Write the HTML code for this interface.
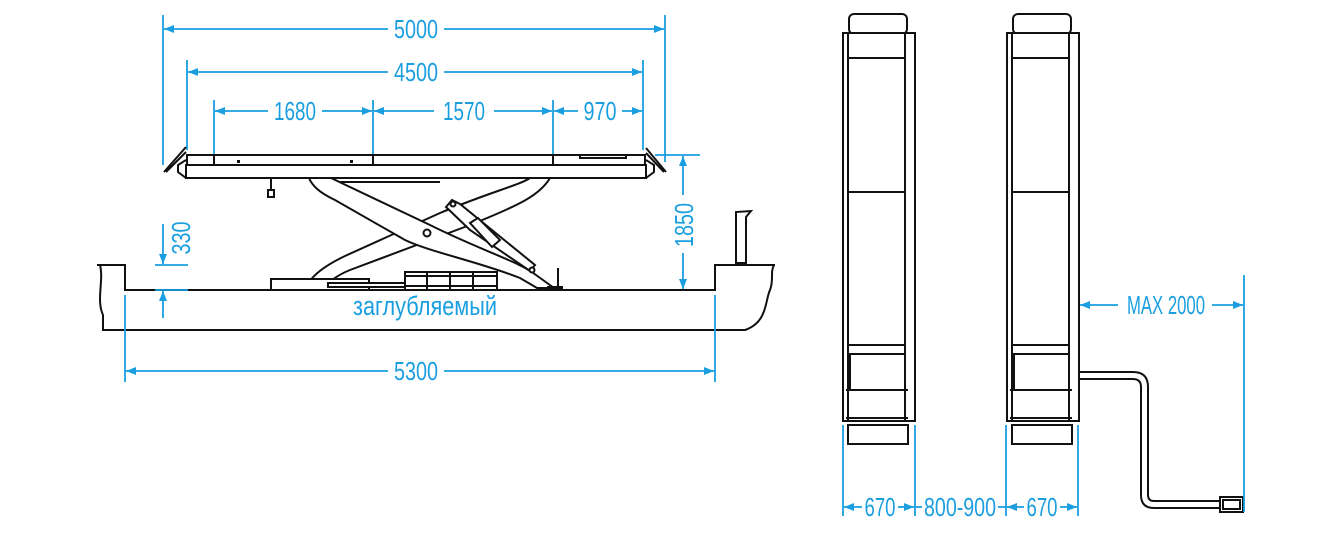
<!DOCTYPE html>
<html><head><meta charset="utf-8"><style>
html,body{margin:0;padding:0;background:#fff;width:1326px;height:552px;overflow:hidden}
svg{display:block}
.b{stroke:#1a9ee0;stroke-width:1.8;fill:none}
.t{fill:#1a9ee0;font-family:"Liberation Sans Narrow","Liberation Sans",sans-serif;font-size:26px;text-anchor:middle}
.k{stroke:#111;stroke-width:2;fill:none}
.kw{stroke:#111;stroke-width:2;fill:#fff}
.a{fill:#1a9ee0}
</style></head><body>
<svg width="1326" height="552" viewBox="0 0 1326 552" xmlns="http://www.w3.org/2000/svg">
<defs>
<marker id="ar" viewBox="0 0 10 10" refX="10" refY="5" markerWidth="10" markerHeight="10" orient="auto-start-reverse" markerUnits="userSpaceOnUse"><path d="M0,1 L10,5 L0,9 z" class="a"/></marker>
</defs>

<!-- top dimensions -->
<line class="b" x1="163" y1="15" x2="163" y2="165"/>
<line class="b" x1="665" y1="15" x2="665" y2="162"/>
<line class="b" x1="187" y1="60" x2="187" y2="150"/>
<line class="b" x1="643" y1="60" x2="643" y2="150"/>
<line class="b" x1="214" y1="100" x2="214" y2="155"/>
<line class="b" x1="373" y1="100" x2="373" y2="155"/>
<line class="b" x1="553" y1="100" x2="553" y2="155"/>
<line class="b" x1="164" y1="29" x2="388" y2="29" marker-start="url(#ar)"/>
<line class="b" x1="444" y1="29" x2="664" y2="29" marker-end="url(#ar)"/>
<text class="t" x="416" y="38" textLength="44" lengthAdjust="spacingAndGlyphs">5000</text>
<line class="b" x1="188" y1="72" x2="388" y2="72" marker-start="url(#ar)"/>
<line class="b" x1="444" y1="72" x2="642" y2="72" marker-end="url(#ar)"/>
<text class="t" x="416" y="81" textLength="44" lengthAdjust="spacingAndGlyphs">4500</text>
<line class="b" x1="215" y1="111" x2="268" y2="111" marker-start="url(#ar)"/>
<line class="b" x1="322" y1="111" x2="372" y2="111" marker-end="url(#ar)"/>
<text class="t" x="295" y="120" textLength="42" lengthAdjust="spacingAndGlyphs">1680</text>
<line class="b" x1="374" y1="111" x2="434" y2="111" marker-start="url(#ar)"/>
<line class="b" x1="494" y1="111" x2="552" y2="111" marker-end="url(#ar)"/>
<text class="t" x="464" y="120" textLength="42" lengthAdjust="spacingAndGlyphs">1570</text>
<line class="b" x1="554" y1="111" x2="578" y2="111" marker-start="url(#ar)"/>
<line class="b" x1="622" y1="111" x2="642" y2="111" marker-end="url(#ar)"/>
<text class="t" x="600" y="120" textLength="33" lengthAdjust="spacingAndGlyphs">970</text>

<!-- platform -->
<rect class="kw" x="187" y="155" width="458" height="10"/>
<rect class="kw" x="186" y="165" width="460" height="13"/>
<line class="k" x1="214" y1="155" x2="214" y2="165"/>
<line class="k" x1="373" y1="155" x2="373" y2="165"/>
<line class="k" x1="553" y1="155" x2="553" y2="165"/>
<path class="k" d="M580,155 L580,158 L626,158 L626,155"/>
<path class="k" d="M164,172 L186,147 M166,172 L186,152 M186,160 L178,165 L178,172 L186,178"/>
<path class="k" d="M666,172 L646,148 M664,172 L646,153 M646,160 L654,165 L654,172 L646,178"/>
<rect x="237" y="160" width="3" height="3" fill="#111"/><rect x="350" y="160" width="3" height="3" fill="#111"/>
<line class="k" x1="330" y1="182" x2="440" y2="182"/>
<line class="k" x1="271" y1="178" x2="271" y2="193"/>
<rect class="kw" x="268" y="190" width="6" height="7"/>

<!-- scissors -->
<path class="kw" d="M530,178 L550,178 C540,195 520,205 470,225 L350,270 C335,276 325,285 322,290 L304,290 C310,278 320,268 345,256 L440,213 C490,192 520,185 530,178 Z"/>
<path class="kw" d="M309,178 L331,178 L430,225 C480,250 520,262 536,275 L554,288 L537,288 L520,278 C480,262 430,252 405,240 L335,200 C318,192 312,185 309,178 Z"/>
<circle class="kw" cx="427" cy="233" r="3.5"/>
<path class="kw" d="M446,207 L452,200 L460,204 L535,265 L530,271 L470,230 Z"/>
<circle class="kw" cx="453" cy="204" r="2.5"/>
<path class="kw" d="M470,223 L478,218 L500,240 L492,247 Z"/>
<circle class="kw" cx="532" cy="270" r="2.5"/>
<!-- base parts -->
<rect class="kw" x="271" y="279" width="98" height="11"/>
<rect class="kw" x="328" y="283" width="80" height="4"/>
<rect class="kw" x="405" y="272" width="92" height="18"/>
<line class="k" x1="405" y1="276" x2="497" y2="276"/><line class="k" x1="405" y1="286" x2="497" y2="286"/>
<line class="k" x1="427" y1="272" x2="427" y2="290"/><line class="k" x1="450" y1="272" x2="450" y2="290"/><line class="k" x1="473" y1="272" x2="473" y2="290"/>
<line class="k" x1="558" y1="268" x2="558" y2="288"/><rect x="547" y="286" width="16" height="4" fill="#111"/>
<path class="kw" d="M736,212 L736,263 L746,263 L746,217 L751,211 Z"/>

<!-- pit -->
<path class="k" d="M97,265 L125,265 L125,290 L715,290 L715,265 L775,265"/>
<path class="k" d="M100,265 C104,280 96,300 103,315 L103,330 L745,330 C768,322 765,300 770,290 C774,280 770,272 774,265"/>
<text class="t" x="425" y="315" style="font-size:27px" textLength="144" lengthAdjust="spacingAndGlyphs">заглубляемый</text>

<!-- 5300 -->
<line class="b" x1="125" y1="295" x2="125" y2="382"/>
<line class="b" x1="715" y1="295" x2="715" y2="382"/>
<line class="b" x1="126" y1="371" x2="388" y2="371" marker-start="url(#ar)"/>
<line class="b" x1="444" y1="371" x2="714" y2="371" marker-end="url(#ar)"/>
<text class="t" x="416" y="380" textLength="44" lengthAdjust="spacingAndGlyphs">5300</text>
<!-- 330 -->
<line class="b" x1="163" y1="224" x2="163" y2="264" marker-end="url(#ar)"/>
<line class="b" x1="163" y1="318" x2="163" y2="291" marker-end="url(#ar)"/>
<line class="b" x1="155" y1="265" x2="188" y2="265"/>
<line class="b" x1="155" y1="290" x2="188" y2="290"/>
<text class="t" transform="translate(190,238) rotate(-90)" textLength="33" lengthAdjust="spacingAndGlyphs">330</text>
<!-- 1850 -->
<line class="b" x1="655" y1="155" x2="700" y2="155"/>
<line class="b" x1="683" y1="195" x2="683" y2="156" marker-end="url(#ar)"/>
<line class="b" x1="683" y1="253" x2="683" y2="289" marker-end="url(#ar)"/>
<text class="t" transform="translate(693,225) rotate(-90)" textLength="44" lengthAdjust="spacingAndGlyphs">1850</text>

<!-- top view lifts -->
<g id="lift">
<rect class="kw" x="849" y="14" width="58" height="20" rx="5"/>
<rect class="kw" x="843" y="33" width="72" height="388"/>
<rect class="k" x="848" y="33" width="57" height="388"/>
<line class="k" x1="848" y1="58" x2="905" y2="58"/>
<line class="k" x1="848" y1="192" x2="905" y2="192"/>
<line class="k" x1="848" y1="345" x2="905" y2="345"/>
<line class="k" x1="848" y1="354" x2="905" y2="354"/>
<line class="k" x1="850" y1="354" x2="850" y2="390"/><line class="k" x1="905" y1="354" x2="905" y2="390"/>
<line class="k" x1="846" y1="390" x2="908" y2="390"/>
<line class="k" x1="846" y1="418" x2="908" y2="418"/>
<rect class="kw" x="848" y="425" width="60" height="19"/>
</g>
<use href="#lift" x="164"/>
<!-- cable -->
<path class="k" d="M1078,372 L1133,372 Q1148,372 1148,387 L1148,495 Q1148,501 1154,501 L1222,501"/>
<path class="k" d="M1078,379 L1133,379 Q1141,379 1141,387 L1141,495 Q1141,508 1154,508 L1222,508"/>
<rect class="kw" x="1220" y="497" width="23" height="15"/>
<rect class="k" x="1223" y="500" width="17" height="9"/>
<!-- MAX 2000 -->
<line class="b" x1="1244" y1="275" x2="1244" y2="512"/>
<line class="b" x1="1080" y1="305" x2="1118" y2="305" marker-start="url(#ar)"/>
<line class="b" x1="1212" y1="305" x2="1243" y2="305" marker-end="url(#ar)"/>
<text class="t" x="1166" y="314" textLength="78" lengthAdjust="spacingAndGlyphs">MAX 2000</text>
<!-- bottom dims -->
<line class="b" x1="843" y1="425" x2="843" y2="516"/>
<line class="b" x1="915" y1="425" x2="915" y2="516"/>
<line class="b" x1="1006" y1="425" x2="1006" y2="516"/>
<line class="b" x1="1078" y1="425" x2="1078" y2="516"/>
<line class="b" x1="844" y1="507" x2="862" y2="507" marker-start="url(#ar)"/>
<line class="b" x1="898" y1="507" x2="914" y2="507" marker-end="url(#ar)"/>
<text class="t" x="880" y="516" textLength="31" lengthAdjust="spacingAndGlyphs">670</text>
<line class="b" x1="1007" y1="507" x2="1024" y2="507" marker-start="url(#ar)"/>
<line class="b" x1="1060" y1="507" x2="1077" y2="507" marker-end="url(#ar)"/>
<text class="t" x="1042" y="516" textLength="31" lengthAdjust="spacingAndGlyphs">670</text>
<line class="b" x1="915" y1="507" x2="922" y2="507"/>
<line class="b" x1="998" y1="507" x2="1006" y2="507"/>
<text class="t" x="960" y="516" textLength="72" lengthAdjust="spacingAndGlyphs">800-900</text>
</svg>
</body></html>
